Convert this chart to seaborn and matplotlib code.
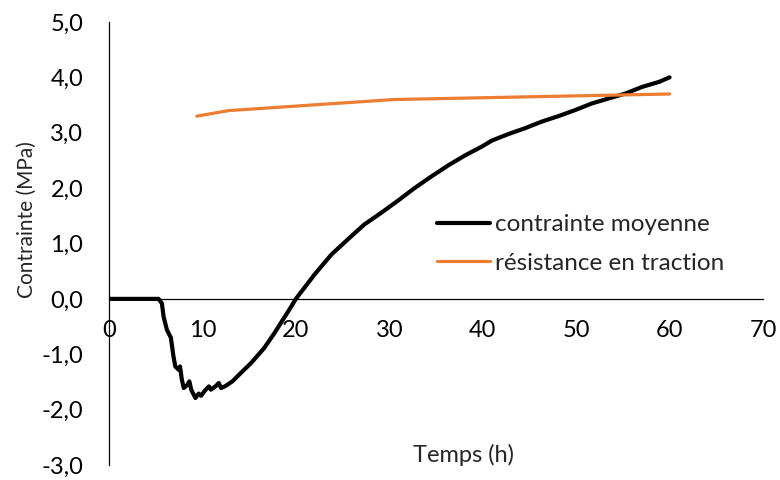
import matplotlib
matplotlib.use("Agg")
import matplotlib.pyplot as plt
import seaborn as sns
import pandas as pd
from matplotlib.ticker import FuncFormatter, MultipleLocator
from matplotlib.lines import Line2D

# --- data ---
temps_moy = [0, 5.3, 5.66, 5.84, 6.2, 6.62, 6.9, 7.1, 7.45, 7.6, 7.8, 8.0, 8.4, 8.6, 8.8,
             9.25, 9.6, 9.85, 10.3, 10.7, 10.9, 11.4, 11.75, 12.0, 12.5, 13.2, 14.1, 15.2,
             16.6, 17.7, 18.6, 19.5, 20.0, 22.0, 23.8, 25.6, 27.3, 29.1, 30.9, 32.7, 34.5,
             36.3, 38.1, 39.9, 41.0, 42.8, 44.5, 46.3, 48.1, 49.9, 51.7, 53.5, 55.3, 57.1,
             58.9, 60.0]
contrainte_moy = [0, 0, -0.08, -0.32, -0.56, -0.70, -1.04, -1.22, -1.28, -1.22, -1.46, -1.61,
                  -1.55, -1.49, -1.64, -1.79, -1.71, -1.75, -1.65, -1.58, -1.64, -1.58, -1.52,
                  -1.61, -1.57, -1.49, -1.34, -1.16, -0.89, -0.62, -0.38, -0.14, 0.0, 0.44,
                  0.80, 1.08, 1.34, 1.55, 1.77, 2.00, 2.21, 2.41, 2.59, 2.75, 2.86, 2.98, 3.08,
                  3.20, 3.30, 3.41, 3.53, 3.62, 3.71, 3.83, 3.92, 4.00]
temps_res = [9.4, 12.8, 30.5, 60.0]
resistance = [3.30, 3.40, 3.60, 3.70]

labels = ["contrainte moyenne", "résistance en traction"]
colors = ["#000000", "#ED7D31"]

df = pd.concat([
    pd.DataFrame({"t": temps_moy, "v": contrainte_moy, "serie": labels[0]}),
    pd.DataFrame({"t": temps_res, "v": resistance, "serie": labels[1]}),
], ignore_index=True)

sns.set_style("white")
plt.rcParams["font.family"] = ["Lato", "DejaVu Sans"]
plt.rcParams["font.size"] = 17

fig = plt.figure(figsize=(7.8, 4.8), dpi=100)
ax = fig.add_axes([109/780, 1-465/480, 654/780, 443/480])

sns.lineplot(data=df, x="t", y="v", hue="serie", palette=dict(zip(labels, colors)),
             sort=False, estimator=None, ax=ax, legend=False)
for line, lw in zip(ax.lines, [3.0, 2.3]):
    line.set_linewidth(lw)
    line.set_solid_capstyle("round")
    line.set_solid_joinstyle("round")

ax.set_xlim(0, 70)
ax.set_ylim(-3, 5)
ax.xaxis.set_major_locator(MultipleLocator(10))
ax.yaxis.set_major_locator(MultipleLocator(1))
ax.yaxis.set_major_formatter(FuncFormatter(lambda v, p: f"{v:.1f}".replace(".", ",")))

for s in ["top", "right"]:
    ax.spines[s].set_visible(False)
ax.spines["bottom"].set_position(("data", 0))
for s in ["left", "bottom"]:
    ax.spines[s].set_color("black")
    ax.spines[s].set_linewidth(0.9)

ax.tick_params(axis="both", which="major", direction="out", length=5, width=0.9,
               color="black", labelsize=17, labelcolor="black")
ax.tick_params(axis="x", pad=10.5)
ax.tick_params(axis="y", pad=13.5)

ax.set_xlabel("Temps (h)", fontsize=17)
ax.set_ylabel("Contrainte (MPa)", fontsize=15)
ax.xaxis.set_label_coords((463-109)/654, (465-455)/443)
ax.yaxis.set_label_coords((27-109)/654, (465-220)/443)
ax.xaxis.label.set_va("center")
ax.yaxis.label.set_va("center")

handles = [Line2D([0], [0], color=colors[0], lw=3.0),
           Line2D([0], [0], color=colors[1], lw=2.3)]
fig.legend(handles, labels, loc="center left", bbox_to_anchor=(437/780, 1-244/480),
           bbox_transform=fig.transFigure, frameon=False, fontsize=17.5,
           handlelength=2.2, handletextpad=0.2, labelspacing=0.72,
           borderpad=0, borderaxespad=0)

fig.savefig("out.png", dpi=100)
